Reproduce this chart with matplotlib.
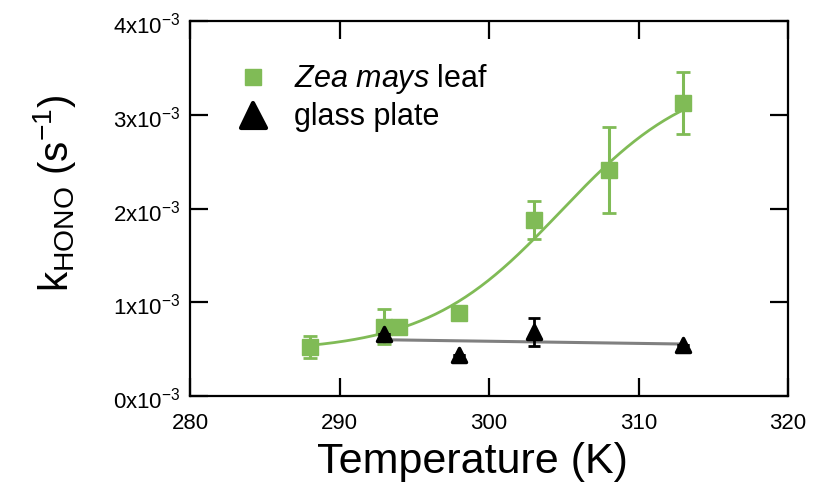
import numpy as np
import matplotlib
matplotlib.use("Agg")
import matplotlib.pyplot as plt
import matplotlib.transforms as mtrans
from matplotlib.lines import Line2D
from matplotlib.markers import MarkerStyle

plt.rcParams['font.family'] = ['Liberation Sans', 'DejaVu Sans']
plt.rcParams['mathtext.fontset'] = 'custom'
plt.rcParams['mathtext.rm'] = 'Liberation Sans'
plt.rcParams['mathtext.it'] = 'Liberation Sans:italic'

# Zea mays leaf (green squares), values in 1e-3 s^-1
leaf_temp = [288, 293, 294, 298, 303, 308, 313]
leaf_k = [0.525, 0.74, 0.74, 0.89, 1.875, 2.41, 3.13]
leaf_err = [0.115, 0.19, 0.0, 0.03, 0.205, 0.46, 0.33]

# glass plate (black triangles)
glass_temp = [293, 298, 303, 313]
glass_k = [0.66, 0.44, 0.68, 0.54]
glass_err = [0.0, 0.0, 0.15, 0.0]

# sigmoid fit drawn through the leaf data
fit_base, fit_amp, fit_mid, fit_width = 0.47, 3.0, 304.8, 4.5

x_ticks = [280, 290, 300, 310, 320]
y_ticks = [0, 1, 2, 3, 4]

green = '#80BB56'

fig = plt.figure(figsize=(8.31, 4.88), dpi=100)
ax = fig.add_axes([190 / 831, 1 - 396 / 488, 598 / 831, 375 / 488])

# fitted curve for the leaf
tt = np.linspace(288, 313, 200)
ax.plot(tt, fit_base + fit_amp / (1 + np.exp(-(tt - fit_mid) / fit_width)),
        color=green, lw=2, zorder=2)

# linear fit for the glass plate
slope, icpt = np.polyfit(glass_temp, glass_k, 1)
gx = np.array([glass_temp[0], glass_temp[-1]])
ax.plot(gx, slope * gx + icpt, color='#808080', lw=2.2, zorder=2)

ax.errorbar(leaf_temp, leaf_k, yerr=leaf_err, fmt='none', ecolor=green,
            elinewidth=2.2, capsize=5, capthick=2, zorder=3)
ax.plot(leaf_temp, leaf_k, ls='none', marker='s', ms=11.5, color=green,
        mec=green, zorder=4)

tri = MarkerStyle('^', joinstyle='round')
ax.errorbar(glass_temp, glass_k, yerr=glass_err, fmt='none', ecolor='black',
            elinewidth=2, capsize=4, capthick=2, zorder=5)
ax.plot(glass_temp, glass_k, ls='none', marker=tri, ms=10, color='black',
        mec='black', mew=2.5, zorder=6)

ax.set_xlim(280, 320)
ax.set_ylim(0, 4)
ax.set_xticks(x_ticks)
ax.set_yticks(y_ticks)
ax.set_xticklabels([str(t) for t in x_ticks])
ax.set_yticklabels([r'$\mathregular{%dx10^{-3}}$' % t for t in y_ticks])

for s in ax.spines.values():
    s.set_linewidth(1.6)
ax.tick_params(direction='in', length=13, width=1.6, top=True, right=True,
               labelsize=16)
ax.tick_params(axis='x', pad=12)
ax.tick_params(axis='y', pad=7)

# y tick labels sit with the digits just under the tick
shift = mtrans.ScaledTranslation(0, 6 / 72, fig.dpi_scale_trans)
for lab in ax.get_yticklabels():
    lab.set_va('top')
    lab.set_transform(lab.get_transform() + shift)

ax.set_xlabel('Temperature (K)', fontsize=31)
ax.xaxis.set_label_coords(0.472, -0.122)
ax.set_ylabel(r'k$_{\mathregular{HONO}}$ (s$^{\mathregular{-1}}$)',
              fontsize=29)
ax.yaxis.set_label_coords(-0.188, 0.54)

handles = [
    Line2D([], [], ls='none', marker='s', ms=11.5, color=green),
    Line2D([], [], ls='none', marker=tri, ms=18, color='black', mew=3),
]
ax.legend(handles, [r'$\mathit{Zea\ mays}$ leaf', 'glass plate'],
          loc='upper left', bbox_to_anchor=(0.067, 0.89), frameon=False,
          fontsize=22, handlelength=1.5, handletextpad=0.6, labelspacing=0.2,
          borderpad=0, borderaxespad=0)

fig.savefig('out.png', dpi=100)
